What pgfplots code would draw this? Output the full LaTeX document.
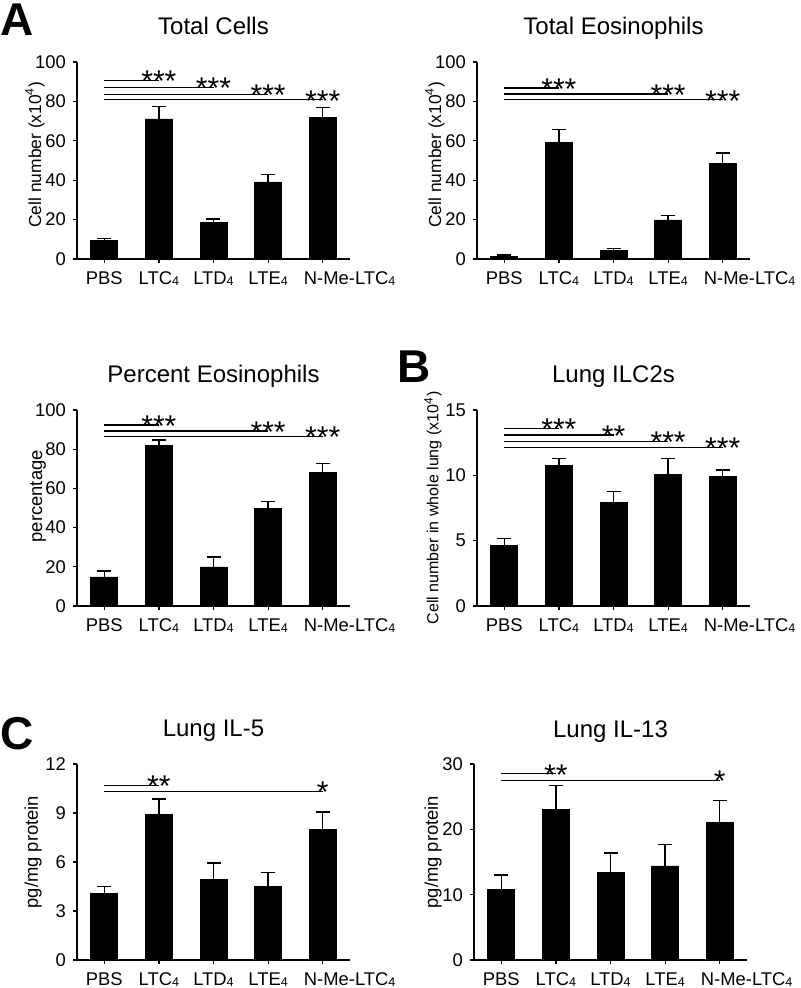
\documentclass[border=0pt]{standalone}
\usepackage{fontspec}
\setmainfont{Liberation Sans}
\usepackage{pgfplots}
\pgfplotsset{compat=1.18}
\newcommand{\sub}[1]{\raisebox{-0.4pt}{\fontsize{6.3}{7}\selectfont #1}}
\pgfplotsset{
  panel/.style={
    scale only axis, width=136.5pt, height=98.5pt,
    axis x line*=bottom, axis y line*=left,
    xmin=-0.5, xmax=4.5, xtick={0,1,2,3,4},
    xticklabels={PBS,LTC\sub{4},LTD\sub{4},LTE\sub{4},\hspace*{27pt}N-Me-LTC\sub{4}},
    ymin=0,
    tick align=outside, major tick length=2pt,
    tick style={black, line width=0.6pt},
    axis line style={line width=0.8pt},
    ticklabel style={font=\fontsize{9.2}{10}\selectfont},
    xticklabel style={yshift=-1pt},
    /pgf/number format/assume math mode=true,
    title style={font=\fontsize{12}{13}\selectfont, at={(0.5,1)}, anchor=base, yshift=7.5pt},
    ylabel style={font=\fontsize{8.7}{10}\selectfont},
    clip=false,
    ybar, bar width=13.5pt,
  },
  bars/.style={fill=black, draw=black,
    error bars/.cd, y dir=plus, y explicit,
    error bar style={line width=0.7pt, black},
    error mark options={rotate=90, mark size=3.5pt, line width=0.7pt, black}},
}
\newcommand{\sig}[3]{%
  \draw[line width=0.65pt] (axis cs:0,#2) -- (axis cs:#1,#2);
  \node[font=\fontsize{15}{15}\selectfont, anchor=base, inner sep=0pt, yshift=-5.6pt] at (axis cs:#1,#2) {#3};}
\begin{document}
\begin{tikzpicture}
\useasboundingbox (0,0) rectangle (400pt,494pt);
\node[anchor=base west, inner sep=0pt, font=\fontsize{23}{23}\selectfont\bfseries] at (0pt,476pt) {A};
\node[anchor=base west, inner sep=0pt, font=\fontsize{23}{23}\selectfont\bfseries] at (198.5pt,302.5pt) {B};
\node[anchor=base west, inner sep=0pt, font=\fontsize{23}{23}\selectfont\bfseries] at (0pt,119pt) {C};

% Panel 1
\begin{axis}[panel, at={(38.5pt,364.5pt)}, anchor=south west,
  ymax=100, ytick={0,20,40,60,80,100}, title={Total Cells},
  ylabel={Cell number (x10\textsuperscript{4})},
  ylabel style={at={(axis description cs:0,0.53)}, anchor=center, yshift=21pt}]
\addplot[bars] table[x=x, y=y, y error=e] {
x y e
0 9.3 1.2
1 71.1 6.2
2 18.4 1.9
3 39.1 3.7
4 71.9 5.1
};
\sig{1}{90.7}{***}
\sig{2}{86.9}{***}
\sig{3}{83.6}{***}
\sig{4}{80.8}{***}
\end{axis}

% Panel 2
\begin{axis}[panel, at={(238.5pt,364.5pt)}, anchor=south west,
  ymax=100, ytick={0,20,40,60,80,100}, title={Total Eosinophils},
  ylabel={Cell number (x10\textsuperscript{4})},
  ylabel style={at={(axis description cs:0,0.53)}, anchor=center, yshift=21pt}]
\addplot[bars] table[x=x, y=y, y error=e] {
x y e
0 1.2 0.8
1 59.1 6.6
2 4.2 1.2
3 19.8 2.4
4 48.6 5.1
};
\sig{1}{86.8}{***}
\sig{3}{83.7}{***}
\sig{4}{80.8}{***}
\end{axis}

% Panel 3
\begin{axis}[panel, at={(38.5pt,191pt)}, anchor=south west, height=98pt,
  ymax=100, ytick={0,20,40,60,80,100}, title={Percent Eosinophils},
  ylabel={percentage},
  ylabel style={font=\fontsize{9.2}{10}\selectfont, at={(axis description cs:0,0.56)}, anchor=center, yshift=19.5pt}]
\addplot[bars] table[x=x, y=y, y error=e] {
x y e
0 14.8 3.1
1 82.1 2.6
2 19.9 5.1
3 49.7 3.5
4 68.0 4.7
};
\sig{1}{92.3}{***}
\sig{3}{89.3}{***}
\sig{4}{86.4}{***}
\end{axis}

% Panel 4
\begin{axis}[panel, at={(238.5pt,191pt)}, anchor=south west, height=98pt,
  ymax=15, ytick={0,5,10,15}, title={Lung ILC2s},
  ylabel={Cell number in whole lung (x10\textsuperscript{4})},
  ylabel style={font=\fontsize{8}{9}\selectfont, at={(axis description cs:0,0.5)}, anchor=center, yshift=22pt}]
\addplot[bars] table[x=x, y=y, y error=e] {
x y e
0 4.6 0.56
1 10.78 0.52
2 7.95 0.79
3 10.09 1.21
4 9.94 0.46
};
\sig{1}{13.6}{***}
\sig{2}{13.08}{**}
\sig{3}{12.57}{***}
\sig{4}{12.14}{***}
\end{axis}

% Panel 5
\begin{axis}[panel, at={(38.5pt,14pt)}, anchor=south west, height=98pt,
  ymax=12, ytick={0,3,6,9,12}, title={Lung IL-5},
  ylabel={pg/mg protein},
  ylabel style={font=\fontsize{9.2}{10}\selectfont, at={(axis description cs:0,0.55)}, anchor=center, yshift=22pt}]
\addplot[bars] table[x=x, y=y, y error=e] {
x y e
0 4.09 0.41
1 8.9 0.96
2 4.95 1.0
3 4.52 0.82
4 7.98 1.08
};
\sig{1}{10.67}{**}
\sig{4}{10.33}{*}
\end{axis}

% Panel 6
\begin{axis}[panel, at={(237pt,14pt)}, anchor=south west, height=98pt,
  ymax=30, ytick={0,10,20,30}, title={Lung IL-13},
  ylabel={pg/mg protein},
  ylabel style={font=\fontsize{9.2}{10}\selectfont, at={(axis description cs:0,0.55)}, anchor=center, yshift=20.5pt}]
\addplot[bars] table[x=x, y=y, y error=e] {
x y e
0 10.83 2.2
1 23.0 3.7
2 13.4 3.0
3 14.4 3.3
4 21.0 3.4
};
\sig{1}{28.5}{**}
\sig{4}{27.5}{*}
\end{axis}
\end{tikzpicture}
\end{document}
